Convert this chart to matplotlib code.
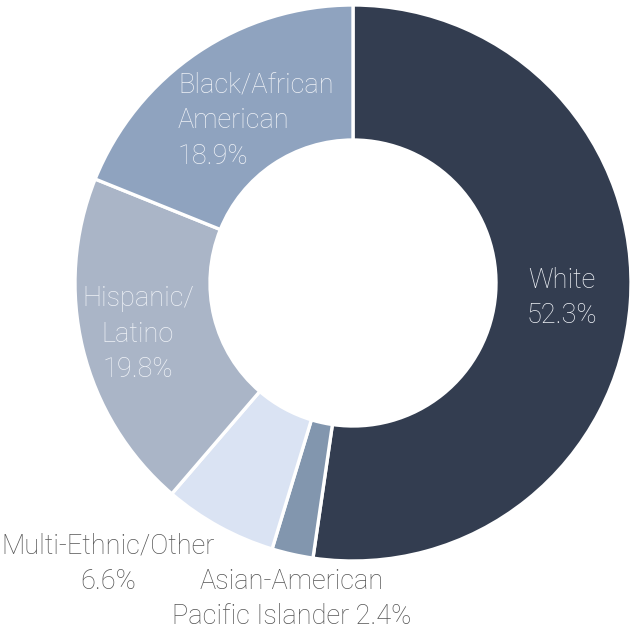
import matplotlib
matplotlib.use("Agg")
from matplotlib import pyplot as plt

groups = ["White", "Asian-American Pacific Islander", "Multi-Ethnic/Other",
          "Hispanic/Latino", "Black/African American"]
shares = [52.3, 2.4, 6.6, 19.8, 18.9]
colors = ["#333d50", "#8296ae", "#dae3f3", "#aab5c7", "#8fa3bf"]

# label text per slice, as shown in the chart
label_text = ["White\n52.3%",
              "Asian-American\nPacific Islander 2.4%",
              "Multi-Ethnic/Other\n6.6%",
              "Hispanic/\nLatino\n19.8%",
              "Black/African\nAmerican\n18.9%"]


def main():
    plt.rcParams['font.family'] = ['Roboto', 'DejaVu Sans']
    fig = plt.figure(figsize=(6.37, 6.33), dpi=100)
    ax = fig.add_axes([0, 0, 1, 1])

    # work in pixel coordinates (y up)
    cx, cy, r = 353, 633 - 283, 278
    ax.pie(shares, colors=colors, startangle=90, counterclock=False,
           center=(cx, cy), radius=r, frame=True,
           wedgeprops=dict(width=r - 143, edgecolor="white", linewidth=2.4))
    ax.set_xlim(0, 637)
    ax.set_ylim(0, 633)
    ax.set_aspect("equal")
    ax.axis("off")

    light = "#eef1f6"
    dark = "#555555"
    kw = dict(fontsize=19.5, fontweight="light", linespacing=1.42)
    ax.text(562, 633 - 298, label_text[0], color=light, ha="center", va="center", **kw)
    ax.text(292, 633 - 599, label_text[1], color=dark, ha="center", va="center", **kw)
    ax.text(108, 633 - 564, label_text[2], color=dark, ha="center", va="center", **kw)
    ax.text(138, 633 - 334, label_text[3], color=light, ha="center", va="center", **kw)
    ax.text(178, 633 - 121, label_text[4], color=light, ha="left", va="center", **kw)

    fig.savefig("out.png", dpi=100)


if __name__ == "__main__":
    main()
